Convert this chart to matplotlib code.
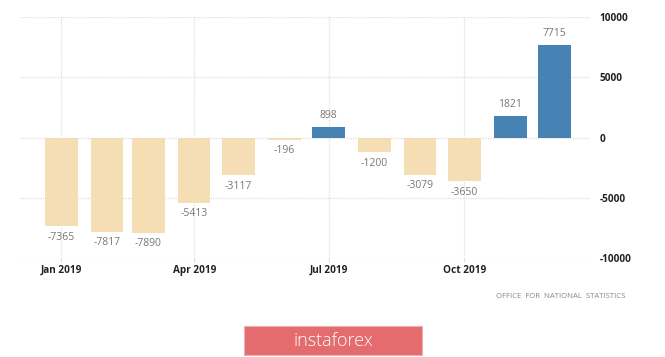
import numpy as np
import pandas as pd
import matplotlib
matplotlib.use("Agg")
import matplotlib.pyplot as plt
import matplotlib.dates as mdates
from matplotlib.patches import Rectangle

# monthly values, 2019
months = pd.date_range("2019-01-01", periods=12, freq="MS")
values = [-7365, -7817, -7890, -5413, -3117, -196, 898, -1200, -3079, -3650, 1821, 7715]
tick_dates = ["2019-01-01", "2019-04-01", "2019-07-01", "2019-10-01"]
tick_labels = ["Jan 2019", "Apr 2019", "Jul 2019", "Oct 2019"]
y_ticks = [-10000, -5000, 0, 5000, 10000]

neg_color = "#f5deb3"
pos_color = "#4682b4"

plt.rcParams["font.family"] = ["Open Sans", "DejaVu Sans"]

fig = plt.figure(figsize=(6.65, 3.57), dpi=100)
ax = fig.add_axes([20 / 665, 1 - 258 / 357, 570 / 665, 241 / 357])

colors = [pos_color if v > 0 else neg_color for v in values]
ax.bar(months, values, width=22, color=colors, zorder=2)

for d, v in zip(months, values):
    if v > 0:
        ax.annotate(str(v), (d, v), xytext=(0, 4), textcoords="offset points",
                    ha="center", va="bottom", fontsize=7.5, color="#777777")
    else:
        ax.annotate(str(v), (d, v), xytext=(0, -4), textcoords="offset points",
                    ha="center", va="top", fontsize=7.5, color="#777777")

ax.set_ylim(-10000, 10000)
ax.set_xlim(pd.Timestamp("2018-12-04"), pd.Timestamp("2019-12-25"))
ax.set_yticks(y_ticks)
ax.set_yticklabels([str(t) for t in y_ticks])
ax.yaxis.tick_right()
ax.set_xticks(pd.to_datetime(tick_dates))
ax.set_xticklabels(tick_labels)

ax.grid(True, color="#dddddd", linestyle=(0, (1, 1)), linewidth=0.9, zorder=0)
for s in ax.spines.values():
    s.set_visible(False)
ax.tick_params(axis="y", length=0, pad=7, labelsize=7.2, labelcolor="#222222")
ax.tick_params(axis="x", length=3, color="#dddddd", pad=2, labelsize=7.2, labelcolor="#222222")
for lab in ax.get_xticklabels() + ax.get_yticklabels():
    lab.set_fontweight("bold")

fig.text(625 / 665, 1 - 296 / 357, "OFFICE  FOR  NATIONAL  STATISTICS",
         ha="right", va="center", fontsize=5.6, color="#888888")

# logo box
fig.patches.append(Rectangle((244 / 665, 1 - 355 / 357), 178 / 665, 29 / 357,
                             transform=fig.transFigure, facecolor="#e46c6e",
                             edgecolor="#e9b0b0", linewidth=0.8))
fig.text(333 / 665, 1 - 341 / 357, "instaforex", ha="center", va="center",
         fontsize=13, color="white", fontweight="light")

fig.savefig("out.png", dpi=100)
